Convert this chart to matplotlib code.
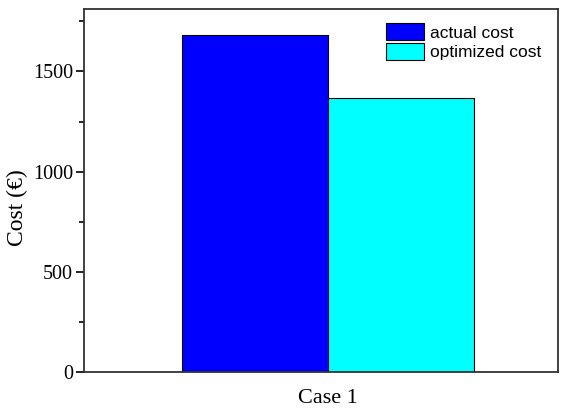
import matplotlib.pyplot as plt
import numpy as np
from matplotlib.ticker import MultipleLocator

cases = ["Case 1"]
actual_cost = [1682]
optimized_cost = [1366]
series_names = ["actual cost", "optimized cost"]

my_dpi = 100
fig = plt.figure(figsize=(565 / my_dpi, 408 / my_dpi), dpi=my_dpi)
ax = fig.add_axes([0.1487, 0.0882, 0.839, 0.890])

x = np.arange(1, len(cases) + 1)
w = 0.308
ax.bar(x - w / 2, actual_cost, width=w, color='#0000ff', edgecolor='black',
       linewidth=0.8, label=series_names[0])
ax.bar(x + w / 2, optimized_cost, width=w, color='#00ffff', edgecolor='black',
       linewidth=0.8, label=series_names[1])

ax.set_xlim(0.4852, 1.4852)
ax.set_ylim(0, 1812)
ax.set_xticks(x)
ax.set_xticklabels(cases, family='Liberation Serif', fontsize=16)
ax.tick_params(axis='x', length=0, pad=12)
ax.yaxis.set_major_locator(MultipleLocator(500))
ax.yaxis.set_minor_locator(MultipleLocator(250))
ax.tick_params(axis='y', which='major', length=6, width=1.2, labelsize=14.5, pad=2)
ax.tick_params(axis='y', which='minor', length=3.5, width=1.2)
for lab in ax.get_yticklabels():
    lab.set_family('Liberation Serif')
ax.set_ylabel("Cost (€)", family='Liberation Serif', fontsize=17)
ax.yaxis.set_label_coords(-0.118, 0.452)

for sp in ax.spines.values():
    sp.set_linewidth(1.3)
    sp.set_color('#333333')

ax.legend(loc='upper left', bbox_to_anchor=(0.623, 0.9795), frameon=False,
          prop={'family': 'Liberation Sans', 'size': 12.5},
          handlelength=2.18, handleheight=1.1, labelspacing=0.15,
          handletextpad=0.35, borderaxespad=0)

fig.savefig("out.png", dpi=my_dpi)
